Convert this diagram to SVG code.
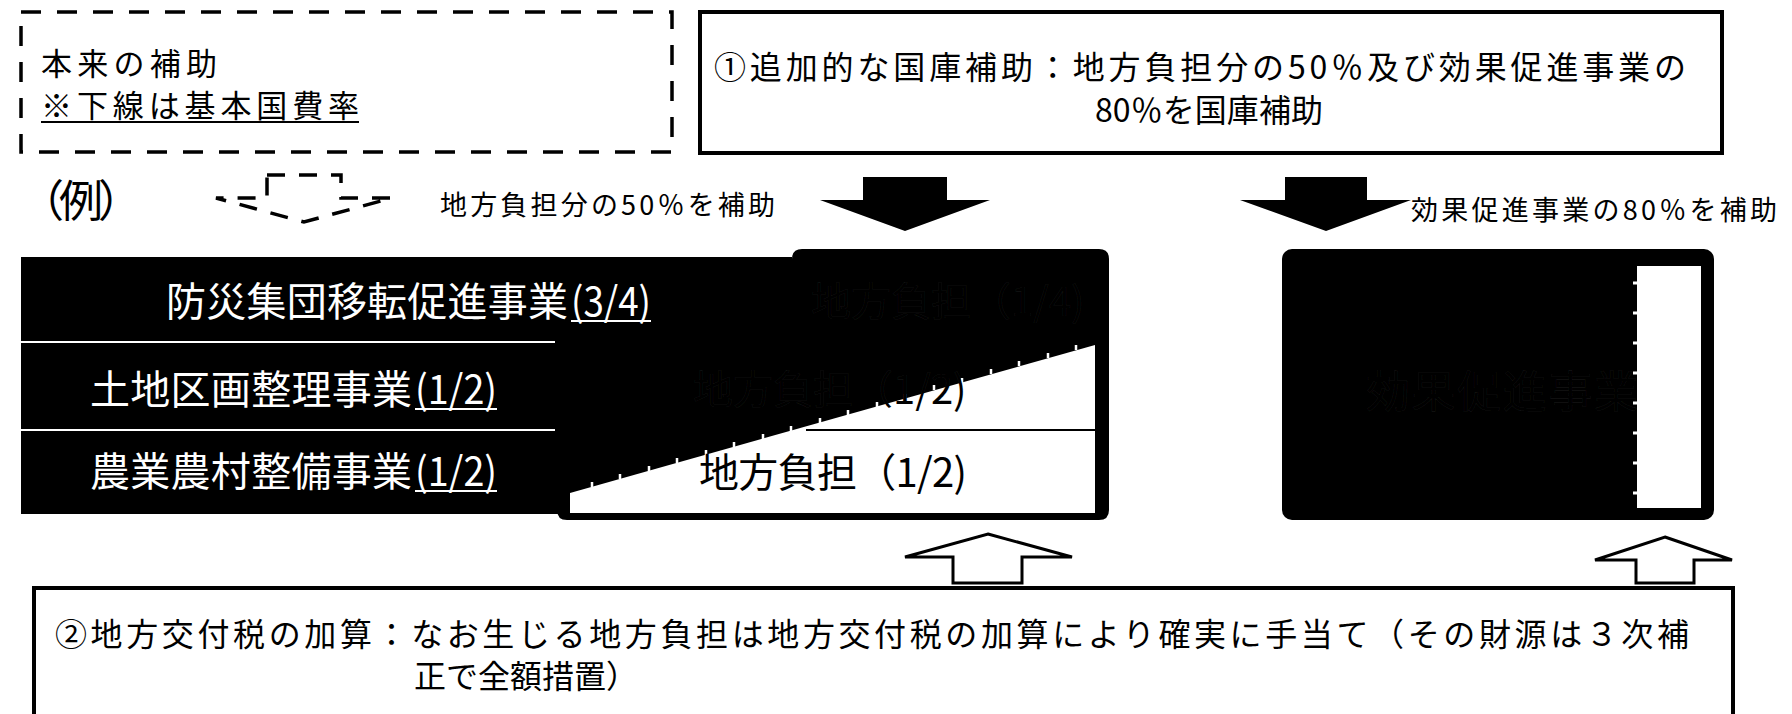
<svg xmlns="http://www.w3.org/2000/svg" width="1792" height="714" viewBox="0 0 1792 714">
<style>
text{font-family:"Noto Sans CJK JP","Noto Sans CJK SC",sans-serif;fill:#000}
.w{fill:#fff}
.hid{fill:#000;stroke:#fff;stroke-opacity:.07;stroke-width:.6}
.frame{fill:#fff;stroke:#000;stroke-width:4}
.ul{stroke:#000;stroke-width:2}
.ulw{stroke:#fff;stroke-width:2}
.down{fill:#000}
.up{fill:#fff;stroke:#000;stroke-width:3}
</style>
<rect width="1792" height="714" fill="#fff"/>

<g id="legend">
<rect x="21" y="12" width="651" height="140" fill="none" stroke="#000" stroke-width="3.5" stroke-dasharray="20 16"/>
<text x="41" y="75" font-size="31" textLength="176" lengthAdjust="spacing">本来の補助</text>
<text x="41" y="117" font-size="31" textLength="318" lengthAdjust="spacing">※下線は基本国費率</text>
<line class="ul" x1="41" y1="122" x2="359" y2="122"/>
</g>

<g id="example-label">
<text x="20" y="217" font-size="44" letter-spacing="-5">（例）</text>
</g>

<g id="measure1">
<rect class="frame" x="700" y="12" width="1022" height="141"/>
<text x="714" y="79" font-size="32" textLength="972" lengthAdjust="spacing">①追加的な国庫補助：地方負担分の50％及び効果促進事業の</text>
<text x="1095" y="122" font-size="32" textLength="228" lengthAdjust="spacing">80％を国庫補助</text>
</g>

<g id="label-local">
<text x="440" y="215" font-size="27" textLength="335" lengthAdjust="spacing">地方負担分の50％を補助</text>
</g>
<g id="label-effect">
<text x="1411" y="220" font-size="27" textLength="366" lengthAdjust="spacing">効果促進事業の80％を補助</text>
</g>

<g id="subsidy-table">
<path d="M802 249 H1099 Q1109 249 1109 259 V510 Q1109 520 1099 520 H567 Q557 520 557 510 V257 H792 V259 Q792 249 802 249 Z" fill="#000"/>
<rect x="21" y="257" width="771" height="257" fill="#000"/>
<line class="ulw" x1="21" y1="342" x2="555" y2="342"/>
<line class="ulw" x1="21" y1="430" x2="555" y2="430"/>
<polygon points="570,493 1095,345 1095,513 570,513" fill="#fff"/>
<path d="M592 487v-5M620 479v-5M649 471v-5M677 463v-5M706 455v-5M734 447v-5M763 439v-5M791 431v-5M820 423v-5M848 415v-5M877 407v-5M905 399v-5M934 390v-5M962 383v-5M991 374v-5M1019 366v-5M1048 358v-5M1076 350v-5" stroke="#fff" stroke-width="2.5"/>
<line x1="806" y1="430" x2="1095" y2="430" stroke="#000" stroke-width="2"/>
<text class="w" x="166" y="316" font-size="40" textLength="402" lengthAdjust="spacing">防災集団移転促進事業</text>
<text class="w" x="571" y="316" font-size="40" textLength="80" lengthAdjust="spacingAndGlyphs">(3/4)</text>
<line class="ulw" x1="571" y1="321" x2="651" y2="321"/>
<text class="w" x="90" y="404" font-size="40" textLength="322" lengthAdjust="spacing">土地区画整理事業</text>
<text class="w" x="415" y="404" font-size="40" textLength="82" lengthAdjust="spacingAndGlyphs">(1/2)</text>
<line class="ulw" x1="415" y1="409" x2="497" y2="409"/>
<text class="w" x="90" y="486" font-size="40" textLength="322" lengthAdjust="spacing">農業農村整備事業</text>
<text class="w" x="415" y="486" font-size="40" textLength="82" lengthAdjust="spacingAndGlyphs">(1/2)</text>
<line class="ulw" x1="415" y1="491" x2="497" y2="491"/>
<text class="hid" x="811" y="316" font-size="40">地方負担（1/4)</text>
<text class="hid" x="693" y="404" font-size="40">地方負担（1/2)</text>
<text x="699" y="487" font-size="40" textLength="268" lengthAdjust="spacing">地方負担（1/2)</text>
</g>

<g id="effect-box">
<rect x="1282" y="249" width="432" height="271" rx="10" fill="#000"/>
<text class="hid" x="1366" y="408" font-size="44" textLength="272" lengthAdjust="spacing">効果促進事業</text>
<rect x="1637" y="266" width="64" height="242" fill="#fff"/>
<path d="M1637 283h-4M1637 313h-4M1637 343h-4M1637 373h-4M1637 403h-4M1637 433h-4M1637 463h-4M1637 493h-4" stroke="#fff" stroke-width="3"/>
</g>

<g id="measure2">
<path d="M34 714 V588 H1733 V714" fill="none" stroke="#000" stroke-width="4"/>
<text x="55" y="646" font-size="32" textLength="1634" lengthAdjust="spacing">②地方交付税の加算：なお生じる地方負担は地方交付税の加算により確実に手当て（その財源は３次補</text>
<text x="414" y="688" font-size="32">正で全額措置）</text>
</g>

<g id="connectors">
<path d="M267 175 H341 V198 H392 L304 222 L216 198 H267 Z" fill="none" stroke="#000" stroke-width="3.5" stroke-dasharray="18 14"/>
<polygon class="down" points="863,177 947,177 947,200 990,200 905,231 820,200 863,200"/>
<polygon class="down" points="1285,177 1367,177 1367,200 1411,200 1326,231 1240,200 1285,200"/>
<polygon class="up" points="988,534 1072,557 1022,557 1022,583 953,583 953,557 905,557"/>
<polygon class="up" points="1665,537 1732,560 1694,560 1694,583 1636,583 1636,560 1595,560"/>
</g>
</svg>
